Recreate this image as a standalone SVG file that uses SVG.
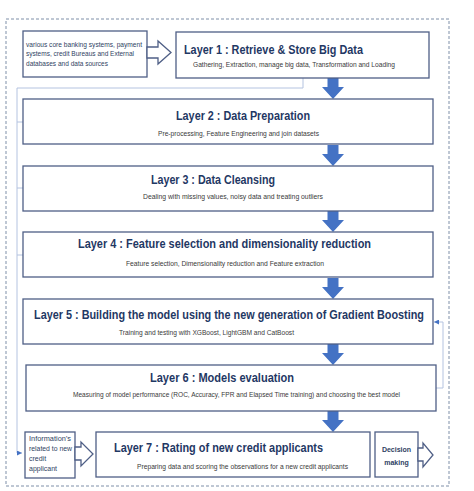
<svg xmlns="http://www.w3.org/2000/svg" width="474" height="491" viewBox="0 0 474 491">
<defs>
<style>
.box{fill:#fff;stroke:#4f5f86;stroke-width:1.3}
.ttl{font-family:"Liberation Sans",Arial,sans-serif;font-weight:bold;font-size:13px;fill:#1f3864}
.sub{font-family:"Liberation Sans",Arial,sans-serif;font-size:6.8px;fill:#3a3a3a}
.sm{font-family:"Liberation Sans",Arial,sans-serif;font-size:7px;fill:#2f3f63}
.fb{fill:none;stroke:#b4c3e0;stroke-width:1}
.down{fill:#4472c4}
</style>
<marker id="ah" viewBox="0 0 6 6" refX="6" refY="3" markerWidth="5" markerHeight="5" orient="auto">
<path d="M0,0 L6,3 L0,6 z" fill="#4472c4"/>
</marker>
<path id="dn" d="M-5.5,0 H5.5 V9 H11 L0,21 L-11,9 H-5.5 Z"/>
</defs>
<rect x="6" y="19" width="443" height="467" fill="none" stroke="#7f8fa8" stroke-width="1" stroke-dasharray="3,2"/>
<g id="connectors">
<polyline class="fb" points="303,78 303,88 17,88 17,453 22,453" marker-end="url(#ah)"/>
<line class="fb" x1="17" y1="122" x2="23" y2="122"/>
<line class="fb" x1="17" y1="188" x2="23" y2="188"/>
<line class="fb" x1="17" y1="255" x2="23" y2="255"/>
<polyline class="fb" points="436,388 443,388 443,322 434,322" marker-end="url(#ah)"/>
<use href="#dn" class="down" x="333" y="78"/>
<use href="#dn" class="down" x="333" y="145"/>
<use href="#dn" class="down" x="333" y="211"/>
<use href="#dn" class="down" x="333" y="278"/>
<use href="#dn" class="down" x="333" y="344"/>
<use href="#dn" class="down" x="333" y="411"/>
</g>
<g id="source">
<rect class="box" x="23" y="31" width="124" height="46"/>
<text class="sm" x="26" y="46.5" textLength="116" lengthAdjust="spacingAndGlyphs">various core banking systems, payment</text>
<text class="sm" x="26" y="56" textLength="108" lengthAdjust="spacingAndGlyphs">systems, credit Bureaus and External</text>
<text class="sm" x="26" y="65.5" textLength="82" lengthAdjust="spacingAndGlyphs">databases and data sources</text>
<polygon class="box" points="147,47 158,47 158,41 171,52.5 158,64 158,58 147,58"/>
</g>
<g id="layer1">
<rect class="box" x="176" y="32" width="253" height="46"/>
<text class="ttl" x="184" y="54" textLength="179" lengthAdjust="spacingAndGlyphs">Layer 1 : Retrieve &amp; Store Big Data</text>
<text class="sub" x="193" y="67" textLength="202" lengthAdjust="spacingAndGlyphs">Gathering, Extraction, manage big data, Transformation and Loading</text>
</g>
<g id="layer2">
<rect class="box" x="23" y="99" width="410" height="45"/>
<text class="ttl" x="176" y="120" textLength="134" lengthAdjust="spacingAndGlyphs">Layer 2 : Data Preparation</text>
<text class="sub" x="158" y="135.5" textLength="161" lengthAdjust="spacingAndGlyphs">Pre-processing, Feature Engineering  and join datasets</text>
</g>
<g id="layer3">
<rect class="box" x="23" y="166" width="410" height="45"/>
<text class="ttl" x="151" y="184" textLength="124" lengthAdjust="spacingAndGlyphs">Layer 3 : Data Cleansing</text>
<text class="sub" x="143" y="198.5" textLength="180" lengthAdjust="spacingAndGlyphs">Dealing  with missing values, noisy data and treating outliers</text>
</g>
<g id="layer4">
<rect class="box" x="23" y="232" width="410" height="45"/>
<text class="ttl" x="78" y="248" textLength="293" lengthAdjust="spacingAndGlyphs">Layer 4 : Feature selection and dimensionality reduction</text>
<text class="sub" x="126" y="265.5" textLength="198" lengthAdjust="spacingAndGlyphs">Feature selection, Dimensionality reduction and Feature extraction</text>
</g>
<g id="layer5">
<rect class="box" x="23" y="299" width="410" height="45"/>
<text class="ttl" x="34" y="319" font-size="12.5" textLength="390" lengthAdjust="spacingAndGlyphs">Layer 5 : Building the model using the new generation of Gradient Boosting</text>
<text class="sub" x="119" y="334.5" textLength="175" lengthAdjust="spacingAndGlyphs">Training and testing with XGBoost, LightGBM and CatBoost</text>
</g>
<g id="layer6">
<rect class="box" x="26" y="365" width="410" height="46"/>
<text class="ttl" x="150" y="382" textLength="144" lengthAdjust="spacingAndGlyphs">Layer 6 : Models evaluation</text>
<text class="sub" x="73" y="397" textLength="327" lengthAdjust="spacingAndGlyphs">Measuring of model performance (ROC, Accuracy, FPR and Elapsed Time training) and choosing the best model</text>
</g>
<g id="info">
<rect class="box" x="25" y="432" width="50" height="46"/>
<text class="sm" x="29" y="440.5" textLength="42" lengthAdjust="spacingAndGlyphs">Information’s</text>
<text class="sm" x="29" y="450.5" textLength="43" lengthAdjust="spacingAndGlyphs">related to new</text>
<text class="sm" x="29" y="460.5">credit</text>
<text class="sm" x="29" y="470.5">applicant</text>
<polygon class="box" points="75,447 81,447 81,442 93,454 81,466 81,460 75,460"/>
</g>
<g id="layer7">
<rect class="box" x="96" y="432" width="274" height="45"/>
<text class="ttl" x="114" y="452" textLength="209" lengthAdjust="spacingAndGlyphs">Layer 7 : Rating of new credit applicants</text>
<text class="sub" x="137" y="468.5" textLength="211" lengthAdjust="spacingAndGlyphs">Preparing data and scoring the observations for a new credit applicants</text>
</g>
<g id="decision">
<rect class="box" x="375" y="432" width="43" height="45"/>
<text class="sm" x="396.5" y="452" text-anchor="middle" font-weight="bold" font-size="7.5">Decision</text>
<text class="sm" x="396.5" y="464.5" text-anchor="middle" font-weight="bold" font-size="7.5">making</text>
<polygon class="box" points="418,448 423,448 423,443 433,455 423,467 423,461 418,461"/>
</g>
</svg>
